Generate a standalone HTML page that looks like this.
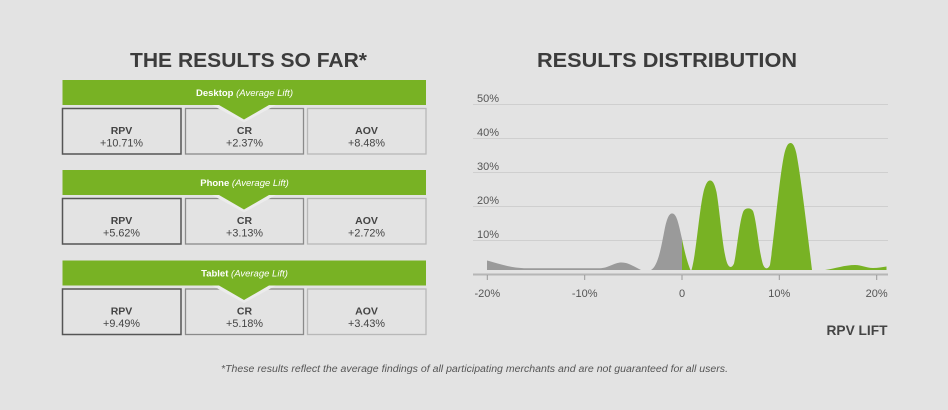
<!DOCTYPE html>
<html>
<head>
<meta charset="utf-8">
<style>
  html, body { margin:0; padding:0; background:#e3e3e3; }
  svg { display:block; }
  text { font-family: "Liberation Sans", sans-serif; }
</style>
</head>
<body>
<svg width="948" height="410" viewBox="0 0 948 410" xmlns="http://www.w3.org/2000/svg">
  <rect x="0" y="0" width="948" height="410" fill="#e3e3e3"/>

  <!-- Titles -->
  <text x="130" y="67" font-size="20.6" font-weight="bold" fill="#3c3c3c" textLength="237" lengthAdjust="spacingAndGlyphs">THE RESULTS SO FAR*</text>
  <text x="537" y="67" font-size="20.6" font-weight="bold" fill="#3c3c3c" textLength="260" lengthAdjust="spacingAndGlyphs">RESULTS DISTRIBUTION</text>

  <!-- ===== Desktop ===== -->
  <g>
    <rect x="62.5" y="80" width="363.5" height="25" fill="#78b224"/>
    <text x="244.5" y="96" font-size="9.5" fill="#ffffff" text-anchor="middle"><tspan font-weight="bold">Desktop</tspan> <tspan font-style="italic">(Average Lift)</tspan></text>
    <rect x="62.5" y="108.5" width="118.5" height="45.5" fill="none" stroke="#555" stroke-width="1.5"/>
    <rect x="185.5" y="108.5" width="118" height="45.5" fill="none" stroke="#8a8a8a" stroke-width="1.3"/>
    <rect x="307.5" y="108.5" width="118.5" height="45.5" fill="none" stroke="#b8b8b8" stroke-width="1.3"/>
    <polygon points="212,105 276,105 244,122.5" fill="#ececec"/>
    <polygon points="219,105 269,105 244,119.5" fill="#78b224"/>
    <text x="121.5" y="134" font-size="10.5" font-weight="bold" fill="#444" text-anchor="middle">RPV</text>
    <text x="121.5" y="146.5" font-size="10.8" fill="#444" text-anchor="middle">+10.71%</text>
    <text x="244.5" y="134" font-size="10.5" font-weight="bold" fill="#444" text-anchor="middle">CR</text>
    <text x="244.5" y="146.5" font-size="10.8" fill="#444" text-anchor="middle">+2.37%</text>
    <text x="366.5" y="134" font-size="10.5" font-weight="bold" fill="#444" text-anchor="middle">AOV</text>
    <text x="366.5" y="146.5" font-size="10.8" fill="#444" text-anchor="middle">+8.48%</text>
  </g>

  <!-- ===== Phone ===== -->
  <g transform="translate(0,90)">
    <rect x="62.5" y="80" width="363.5" height="25" fill="#78b224"/>
    <text x="244.5" y="96" font-size="9.5" fill="#ffffff" text-anchor="middle"><tspan font-weight="bold">Phone</tspan> <tspan font-style="italic">(Average Lift)</tspan></text>
    <rect x="62.5" y="108.5" width="118.5" height="45.5" fill="none" stroke="#555" stroke-width="1.5"/>
    <rect x="185.5" y="108.5" width="118" height="45.5" fill="none" stroke="#8a8a8a" stroke-width="1.3"/>
    <rect x="307.5" y="108.5" width="118.5" height="45.5" fill="none" stroke="#b8b8b8" stroke-width="1.3"/>
    <polygon points="212,105 276,105 244,122.5" fill="#ececec"/>
    <polygon points="219,105 269,105 244,119.5" fill="#78b224"/>
    <text x="121.5" y="134" font-size="10.5" font-weight="bold" fill="#444" text-anchor="middle">RPV</text>
    <text x="121.5" y="146.5" font-size="10.8" fill="#444" text-anchor="middle">+5.62%</text>
    <text x="244.5" y="134" font-size="10.5" font-weight="bold" fill="#444" text-anchor="middle">CR</text>
    <text x="244.5" y="146.5" font-size="10.8" fill="#444" text-anchor="middle">+3.13%</text>
    <text x="366.5" y="134" font-size="10.5" font-weight="bold" fill="#444" text-anchor="middle">AOV</text>
    <text x="366.5" y="146.5" font-size="10.8" fill="#444" text-anchor="middle">+2.72%</text>
  </g>

  <!-- ===== Tablet ===== -->
  <g transform="translate(0,180.5)">
    <rect x="62.5" y="80" width="363.5" height="25" fill="#78b224"/>
    <text x="244.5" y="96" font-size="9.5" fill="#ffffff" text-anchor="middle"><tspan font-weight="bold">Tablet</tspan> <tspan font-style="italic">(Average Lift)</tspan></text>
    <rect x="62.5" y="108.5" width="118.5" height="45.5" fill="none" stroke="#555" stroke-width="1.5"/>
    <rect x="185.5" y="108.5" width="118" height="45.5" fill="none" stroke="#8a8a8a" stroke-width="1.3"/>
    <rect x="307.5" y="108.5" width="118.5" height="45.5" fill="none" stroke="#b8b8b8" stroke-width="1.3"/>
    <polygon points="212,105 276,105 244,122.5" fill="#ececec"/>
    <polygon points="219,105 269,105 244,119.5" fill="#78b224"/>
    <text x="121.5" y="134" font-size="10.5" font-weight="bold" fill="#444" text-anchor="middle">RPV</text>
    <text x="121.5" y="146.5" font-size="10.8" fill="#444" text-anchor="middle">+9.49%</text>
    <text x="244.5" y="134" font-size="10.5" font-weight="bold" fill="#444" text-anchor="middle">CR</text>
    <text x="244.5" y="146.5" font-size="10.8" fill="#444" text-anchor="middle">+5.18%</text>
    <text x="366.5" y="134" font-size="10.5" font-weight="bold" fill="#444" text-anchor="middle">AOV</text>
    <text x="366.5" y="146.5" font-size="10.8" fill="#444" text-anchor="middle">+3.43%</text>
  </g>

  <!-- ===== Chart ===== -->
  <g stroke="#cfcfcf" stroke-width="1">
    <line x1="473" y1="104.5" x2="888" y2="104.5"/>
    <line x1="473" y1="138.5" x2="888" y2="138.5"/>
    <line x1="473" y1="172.5" x2="888" y2="172.5"/>
    <line x1="473" y1="206.5" x2="888" y2="206.5"/>
    <line x1="473" y1="240.5" x2="888" y2="240.5"/>
  </g>
  <g font-size="11" fill="#555">
    <text x="477" y="102">50%</text>
    <text x="477" y="136">40%</text>
    <text x="477" y="170">30%</text>
    <text x="477" y="204">20%</text>
    <text x="477" y="238">10%</text>
  </g>

  <!-- Gray series -->
  <path d="M487,270 L487,260.5 C497,263 508,267.5 524,268.2 L600,268.2 C609,268 614,262.5 621.5,262.5 C628,262.5 633,266 641,270 Z" fill="#9a9a9a"/>
  <path d="M651,270 C658,266 661,248 664.5,230 C667,217 669.5,213.5 672,213.5 C675,213.5 677,217 679.5,228 L682,239 L682,270 Z" fill="#9a9a9a"/>

  <!-- Green series -->
  <path d="M682,239 C684,249 687,262 690.5,270 L682,270 Z" fill="#78b224"/>
  <path d="M691.5,270 C696,255 699,212 703.5,192 C706,182.5 708,180.5 710,180.5 C712.5,180.5 714.5,183 716.5,192 C720,212 723,254 727.5,264 C729.5,268 732,268 734,263.5
           C737,250 739.5,220 743.5,211 C745.5,207.5 751,207.5 753,211 C756.5,220 759,252 763,264.5 C765,269.5 768,269.5 770,265
           C774,240 779.5,175 784.5,153 C786.5,145 788.5,143 790.5,143 C792.5,143 794.5,145 796.5,154 C801,178 806.5,225 812,270 Z" fill="#78b224"/>
  <path d="M825,270 C835,268.5 845,265 855,265 C862,265 866,268 873,268 C878,268 882,267 886.5,266.5 L886.5,270 Z" fill="#78b224"/>

  <!-- Axis -->
  <line x1="473" y1="274.5" x2="888" y2="274.5" stroke="#b6b6b6" stroke-width="2"/>
  <g stroke="#999" stroke-width="1">
    <line x1="487.3" y1="275" x2="487.3" y2="280"/>
    <line x1="584.7" y1="275" x2="584.7" y2="280"/>
    <line x1="682" y1="275" x2="682" y2="280"/>
    <line x1="779.3" y1="275" x2="779.3" y2="280"/>
    <line x1="876.7" y1="275" x2="876.7" y2="280"/>
  </g>
  <g font-size="11" fill="#555" text-anchor="middle">
    <text x="487.3" y="297">-20%</text>
    <text x="584.7" y="297">-10%</text>
    <text x="682" y="297">0</text>
    <text x="779.3" y="297">10%</text>
    <text x="876.7" y="297">20%</text>
  </g>

  <text x="826.5" y="335" font-size="14" font-weight="bold" fill="#444" textLength="61" lengthAdjust="spacingAndGlyphs">RPV LIFT</text>

  <!-- Footnote -->
  <text x="221" y="372" font-size="10" font-style="italic" fill="#555" textLength="507" lengthAdjust="spacingAndGlyphs">*These results reflect the average findings of all participating merchants and are not guaranteed for all users.</text>
</svg>
</body>
</html>
